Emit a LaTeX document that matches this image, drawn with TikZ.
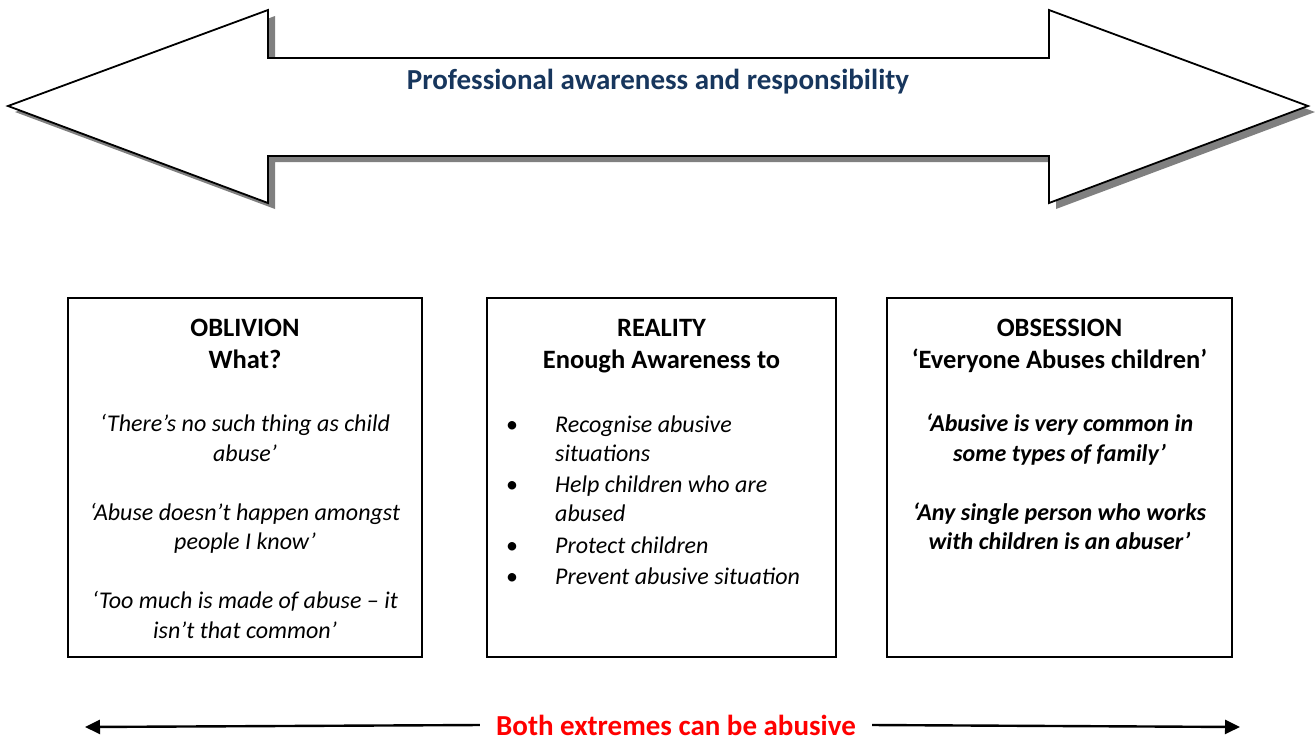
\documentclass[tikz,border=0pt]{standalone}
\usepackage{fontspec}
\setmainfont{Carlito}
\usepackage{xcolor}
\usetikzlibrary{positioning, shadows, arrows.meta}
\definecolor{navy}{HTML}{17365D}

\begin{document}
\begin{tikzpicture}[x=1pt, y=-1pt,
  bigarrow/.style={draw, fill=white, line width=1.8pt, line join=miter,
    drop shadow={shadow xshift=7pt, shadow yshift=-6pt, fill=gray, opacity=1}},
  box/.style={draw, line width=1.4pt, minimum width=#1, minimum height=359pt, inner sep=0pt},
  head/.style={font=\fontsize{26.5}{32}\selectfont\bfseries, align=center, inner sep=0pt},
  quote/.style={font=\fontsize{24}{29.5}\selectfont\itshape, align=center, inner sep=0pt},
  both/.style={font=\fontsize{29}{34}\selectfont\bfseries, text=red, inner xsep=16pt, inner ysep=0pt},
  bothline/.style={line width=2.4pt, -{Triangle[length=15pt, width=14pt]}}]

\useasboundingbox (0,0) rectangle (1315,740);

% double arrow on top
\path[bigarrow] (8,106) -- (268,10) -- (268,58) -- (1049,58) -- (1049,10) -- (1308,106)
  -- (1049,203) -- (1049,156) -- (268,156) -- (268,203) -- cycle;
\node[font=\fontsize{29}{34}\selectfont\bfseries, text=navy] (title) at (658,82)
  {Professional awareness and responsibility};

% the three boxes
\node[box=354pt] (oblivion) at (245,477.5) {};
\node[box=349pt] (reality) at (661.5,477.5) {};
\node[box=345pt] (obsession) at (1059.5,477.5) {};

\node[head] (oblhead) at (245,346) {\strut OBLIVION\\\strut What?};
\node[quote] (oblquotes) at (245,529) {\strut‘There’s no such thing as child\\abuse’\\[29.5pt]
  ‘Abuse doesn’t happen amongst\\people I know’\\[29.5pt]
  ‘Too much is made of abuse – it\\\strut isn’t that common’};

\node[head] (realhead) at (661.5,346) {\strut REALITY\\\strut Enough Awareness to};
\node[anchor=west, inner sep=0pt, font=\fontsize{24}{29}\selectfont\itshape] (reallist) at (506,502.5)
  {\begin{tabular}{@{}p{49pt}@{}l@{}}
   {\upshape\textbullet} & Recognise abusive\\
    & situations\\[2.5pt]
   {\upshape\textbullet} & Help children who are\\
    & abused\\[2.5pt]
   {\upshape\textbullet} & Protect children\\[2.5pt]
   {\upshape\textbullet} & Prevent abusive situation
  \end{tabular}};

\node[head] (obshead) at (1059.5,346) {\strut OBSESSION\\\strut‘Everyone Abuses children’};
\node[quote, font=\fontsize{24}{29.5}\selectfont\bfseries\itshape] (obsquotes) at (1059.5,485)
  {\strut‘Abusive is very common in\\some types of family’\\[29.5pt]
  ‘Any single person who works\\\strut with children is an abuser’};

% bottom arrow
\node[both] (both) at (676,725) {Both extremes can be abusive};
\coordinate (leftend) at (85,727);
\coordinate (rightend) at (1240,727);
\draw[bothline] (both.west) -- (leftend);
\draw[bothline] (both.east) -- (rightend);

\end{tikzpicture}
\end{document}
